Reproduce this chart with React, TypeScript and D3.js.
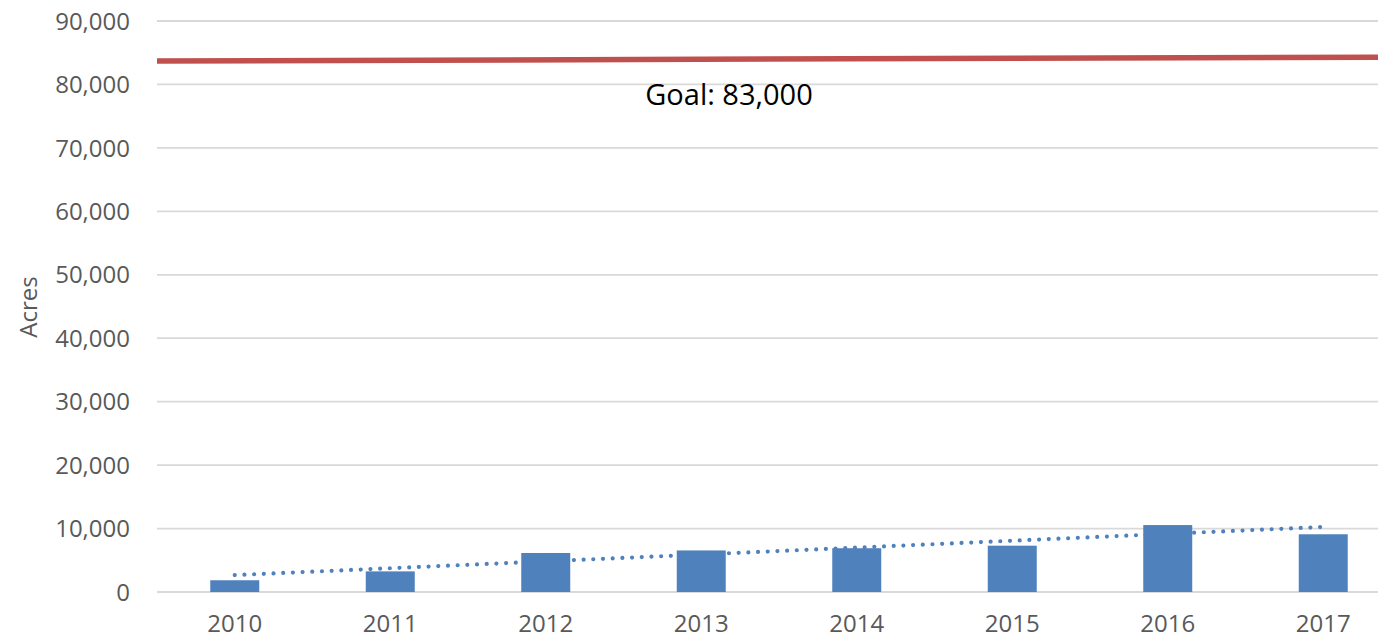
import React from "react";
import * as d3 from "d3";

const years = ["2010", "2011", "2012", "2013", "2014", "2015", "2016", "2017"];
const acres = [1850, 3250, 6150, 6550, 6900, 7300, 10550, 9100];
const goalValues = [83700, 84300];
const goalLabel = "Goal: 83,000";
const yTicks = [0, 10000, 20000, 30000, 40000, 50000, 60000, 70000, 80000, 90000];
const yTitle = "Acres";

const W = 1378;
const H = 640;
const plotLeft = 157;
const plotRight = 157 + 8 * 155.5;
const yTop = 21;
const yBottom = 592;

export default function App() {
  const x = d3
    .scaleBand<string>()
    .domain(years)
    .range([plotLeft, plotRight])
    .paddingInner(0.685)
    .paddingOuter(0.3425);
  const y = d3.scaleLinear().domain([0, 90000]).range([yBottom, yTop]);

  // linear regression trendline
  const n = acres.length;
  const idx = acres.map((_, i) => i);
  const mx = d3.mean(idx) as number;
  const my = d3.mean(acres) as number;
  const sxy = d3.sum(idx.map((i) => (i - mx) * (acres[i] - my)));
  const sxx = d3.sum(idx.map((i) => (i - mx) * (i - mx)));
  const slope = sxy / sxx;
  const intercept = my - slope * mx;
  const cx = (i: number) => (x(years[i]) as number) + x.bandwidth() / 2;
  const trend = d3
    .line<number>()
    .x((i) => cx(i))
    .y((i) => y(intercept + slope * i));

  const fmt = d3.format(",");
  const font = "'Open Sans', sans-serif";

  return (
    <div style={{ position: "absolute", left: 0, top: 0 }}>
      <svg width={W} height={H} style={{ display: "block" }}>
        <rect width={W} height={H} fill="#ffffff" />
        {yTicks.map((t) => (
          <g key={t}>
            <line
              x1={plotLeft}
              x2={plotRight}
              y1={y(t)}
              y2={y(t)}
              stroke="#D9D9D9"
              strokeWidth={1.8}
            />
            <text
              x={130}
              y={y(t)}
              dy="0.36em"
              textAnchor="end"
              fontFamily={font}
              fontSize={24}
              fill="#595959"
            >
              {fmt(t)}
            </text>
          </g>
        ))}
        {years.map((yr, i) => (
          <rect
            key={yr}
            x={x(yr)}
            y={y(acres[i])}
            width={x.bandwidth()}
            height={y(0) - y(acres[i])}
            fill="#4F81BD"
          />
        ))}
        <path
          d={trend([0, n - 1]) || ""}
          fill="none"
          stroke="#4F81BD"
          strokeWidth={4.2}
          strokeLinecap="round"
          strokeDasharray="0 9.7"
        />
        <line
          x1={plotLeft}
          x2={plotRight}
          y1={y(goalValues[0])}
          y2={y(goalValues[1])}
          stroke="#C0504D"
          strokeWidth={5.5}
        />
        <text
          x={729}
          y={105}
          textAnchor="middle"
          fontFamily={font}
          fontSize={29}
          fill="#000000"
        >
          {goalLabel}
        </text>
        {years.map((yr) => (
          <text
            key={yr}
            x={(x(yr) as number) + x.bandwidth() / 2}
            y={632}
            textAnchor="middle"
            fontFamily={font}
            fontSize={24}
            fill="#595959"
          >
            {yr}
          </text>
        ))}
        <text
          transform={`translate(37,307) rotate(-90)`}
          textAnchor="middle"
          fontFamily={font}
          fontSize={24}
          fill="#595959"
        >
          {yTitle}
        </text>
      </svg>
    </div>
  );
}
